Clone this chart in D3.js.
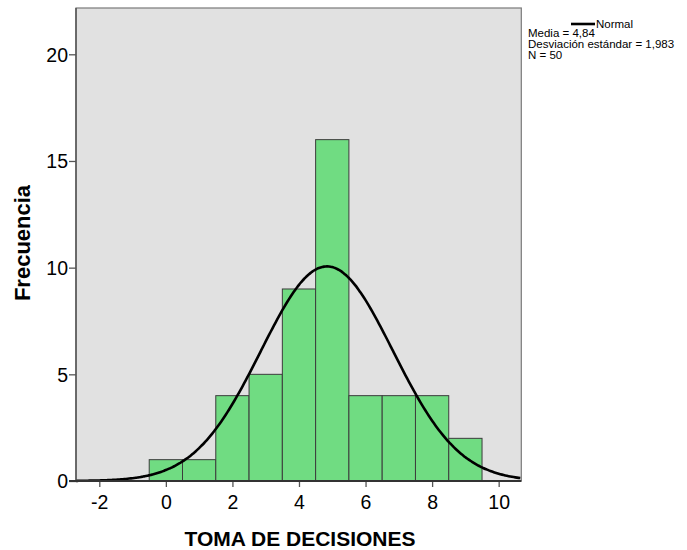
<!DOCTYPE html>
<html>
<head>
<meta charset="utf-8">
<script src="https://cdn.jsdelivr.net/npm/d3@7"></script>
<style>
  html, body { margin: 0; padding: 0; background: #ffffff; }
  svg { display: block; }
  text { font-family: "Liberation Sans", Arial, sans-serif; }
</style>
</head>
<body>
<script>
// ---- data ----
const binCenters = [0, 1, 2, 3, 4, 5, 6, 7, 8, 9];
const frequencies = [1, 1, 4, 5, 9, 16, 4, 4, 4, 2];
const binWidth = 1;
const xTicks = [-2, 0, 2, 4, 6, 8, 10];
const yTicks = [0, 5, 10, 15, 20];
const mean = 4.84;
const sd = 1.983;
const n = 50;
const legendLines = ["Media = 4,84", "Desviación estándar = 1,983", "N = 50"];
const xTitle = "TOMA DE DECISIONES";
const yTitle = "Frecuencia";

// ---- layout ----
const W = 687, H = 550;
const plot = { left: 76, right: 521.3, top: 8, bottom: 481 };

const svg = d3.select("body").append("svg").attr("width", W).attr("height", H);

const x = d3.scaleLinear().domain([-2.7, 10.68]).range([plot.left, plot.right]);
const y = d3.scaleLinear().domain([0, 22.17]).range([plot.bottom, plot.top]);

// background
svg.append("rect")
  .attr("x", plot.left).attr("y", plot.top)
  .attr("width", plot.right - plot.left).attr("height", plot.bottom - plot.top)
  .attr("fill", "#e1e1e1").attr("stroke", "#7a7a7a").attr("stroke-width", 1.2);

// bars
svg.append("g").selectAll("rect").data(binCenters).join("rect")
  .attr("x", (d) => x(d - binWidth / 2))
  .attr("y", (d, i) => y(frequencies[i]))
  .attr("width", (d) => x(d + binWidth / 2) - x(d - binWidth / 2))
  .attr("height", (d, i) => y(0) - y(frequencies[i]))
  .attr("fill", "#70dc82")
  .attr("stroke", "#3c3c3c")
  .attr("stroke-width", 1);

// normal curve
const pts = d3.range(-2.7, 10.68 + 1e-9, 0.05);
const pdf = (v) => n * binWidth / (sd * Math.sqrt(2 * Math.PI)) * Math.exp(-0.5 * ((v - mean) / sd) ** 2);
svg.append("path")
  .datum(pts)
  .attr("fill", "none")
  .attr("stroke", "#000")
  .attr("stroke-width", 2.6)
  .attr("d", d3.line().x((d) => x(d)).y((d) => y(pdf(d))).curve(d3.curveBasis));

// axes
const fmt = (d) => String(d);
const xAxis = svg.append("g")
  .attr("transform", `translate(0,${plot.bottom})`)
  .call(d3.axisBottom(x).tickValues(xTicks).tickSize(6).tickSizeOuter(0).tickFormat(fmt));
xAxis.select(".domain").remove();
xAxis.selectAll("line").attr("stroke", "#555").attr("stroke-width", 1.3);
xAxis.selectAll("text").attr("font-size", 19.5).attr("fill", "#000").attr("dy", "0.95em");

const yAxis = svg.append("g")
  .attr("transform", `translate(${plot.left},0)`)
  .call(d3.axisLeft(y).tickValues(yTicks).tickSize(7).tickSizeOuter(0).tickFormat(fmt));
yAxis.select(".domain").remove();
yAxis.selectAll("line").attr("stroke", "#555").attr("stroke-width", 1.3);
yAxis.selectAll("text").attr("font-size", 19.5).attr("fill", "#000").attr("x", -8).attr("dy", "0.35em");

// axis lines (darker left & bottom)
svg.append("line").attr("x1", plot.left).attr("x2", plot.left).attr("y1", plot.top).attr("y2", plot.bottom)
  .attr("stroke", "#555").attr("stroke-width", 1.5);
svg.append("line").attr("x1", plot.left - 7).attr("x2", plot.right).attr("y1", plot.bottom).attr("y2", plot.bottom)
  .attr("stroke", "#333").attr("stroke-width", 1.8);

// axis titles
svg.append("text")
  .attr("x", 300).attr("y", 546)
  .attr("text-anchor", "middle").attr("font-weight", "bold").attr("font-size", 21)
  .text(xTitle);
svg.append("text")
  .attr("transform", `translate(30,243) rotate(-90)`)
  .attr("text-anchor", "middle").attr("font-weight", "bold").attr("font-size", 22)
  .text(yTitle);

// legend
const lg = svg.append("g");
lg.append("line").attr("x1", 571).attr("x2", 595).attr("y1", 24).attr("y2", 24)
  .attr("stroke", "#000").attr("stroke-width", 2.6);
lg.append("text").attr("x", 596).attr("y", 28).attr("font-size", 11.5).text("Normal");
lg.selectAll("text.info").data(legendLines).join("text").attr("class", "info")
  .attr("x", 528).attr("y", (d, i) => 37 + i * 10.8)
  .attr("font-size", 11.5)
  .text((d) => d);
</script>
</body>
</html>
